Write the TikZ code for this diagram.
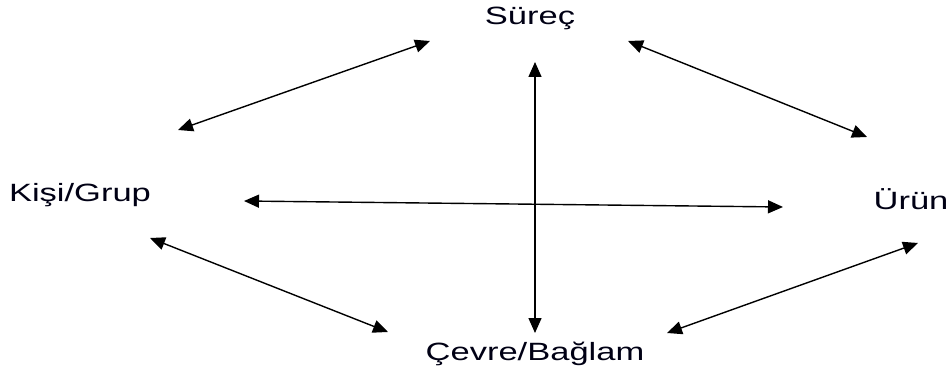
\documentclass[tikz,border=0pt]{standalone}
\usepackage{fontspec}
\setmainfont[FakeStretch=1.38]{Liberation Sans}
\usetikzlibrary{arrows.meta}
\begin{document}
\begin{tikzpicture}[x=1pt,y=-1pt,
  lbl/.style={inner sep=0pt,anchor=base,font=\fontsize{25}{30}\selectfont,text=black!92!blue},
  link/.style={line width=1.4pt,{Triangle[length=15pt,width=13pt]}-{Triangle[length=15pt,width=13pt]}}]
\useasboundingbox (0,0) rectangle (952,371);
\node[lbl] (surec) at (530,25) {Süreç};
\node[lbl] (kisi) at (80,202) {Kişi/Grup};
\node[lbl] (urun) at (911,210) {Ürün};
\node[lbl] (cevre) at (535,360) {Çevre/Bağlam};
\coordinate (tl1) at (178,130);
\coordinate (tl2) at (430,41);
\coordinate (tr1) at (628,41);
\coordinate (tr2) at (867,137);
\coordinate (bl1) at (150,238);
\coordinate (bl2) at (388,332);
\coordinate (br1) at (667,333);
\coordinate (br2) at (918,243);
\coordinate (vt) at (535,62);
\coordinate (vb) at (535,333);
\coordinate (hl) at (244,201);
\coordinate (hr) at (783,207);
\draw[link] (tl1) -- (tl2);
\draw[link] (tr1) -- (tr2);
\draw[link] (bl1) -- (bl2);
\draw[link] (br1) -- (br2);
\draw[link] (vt) -- (vb);
\draw[link] (hl) -- (hr);
\end{tikzpicture}
\end{document}
